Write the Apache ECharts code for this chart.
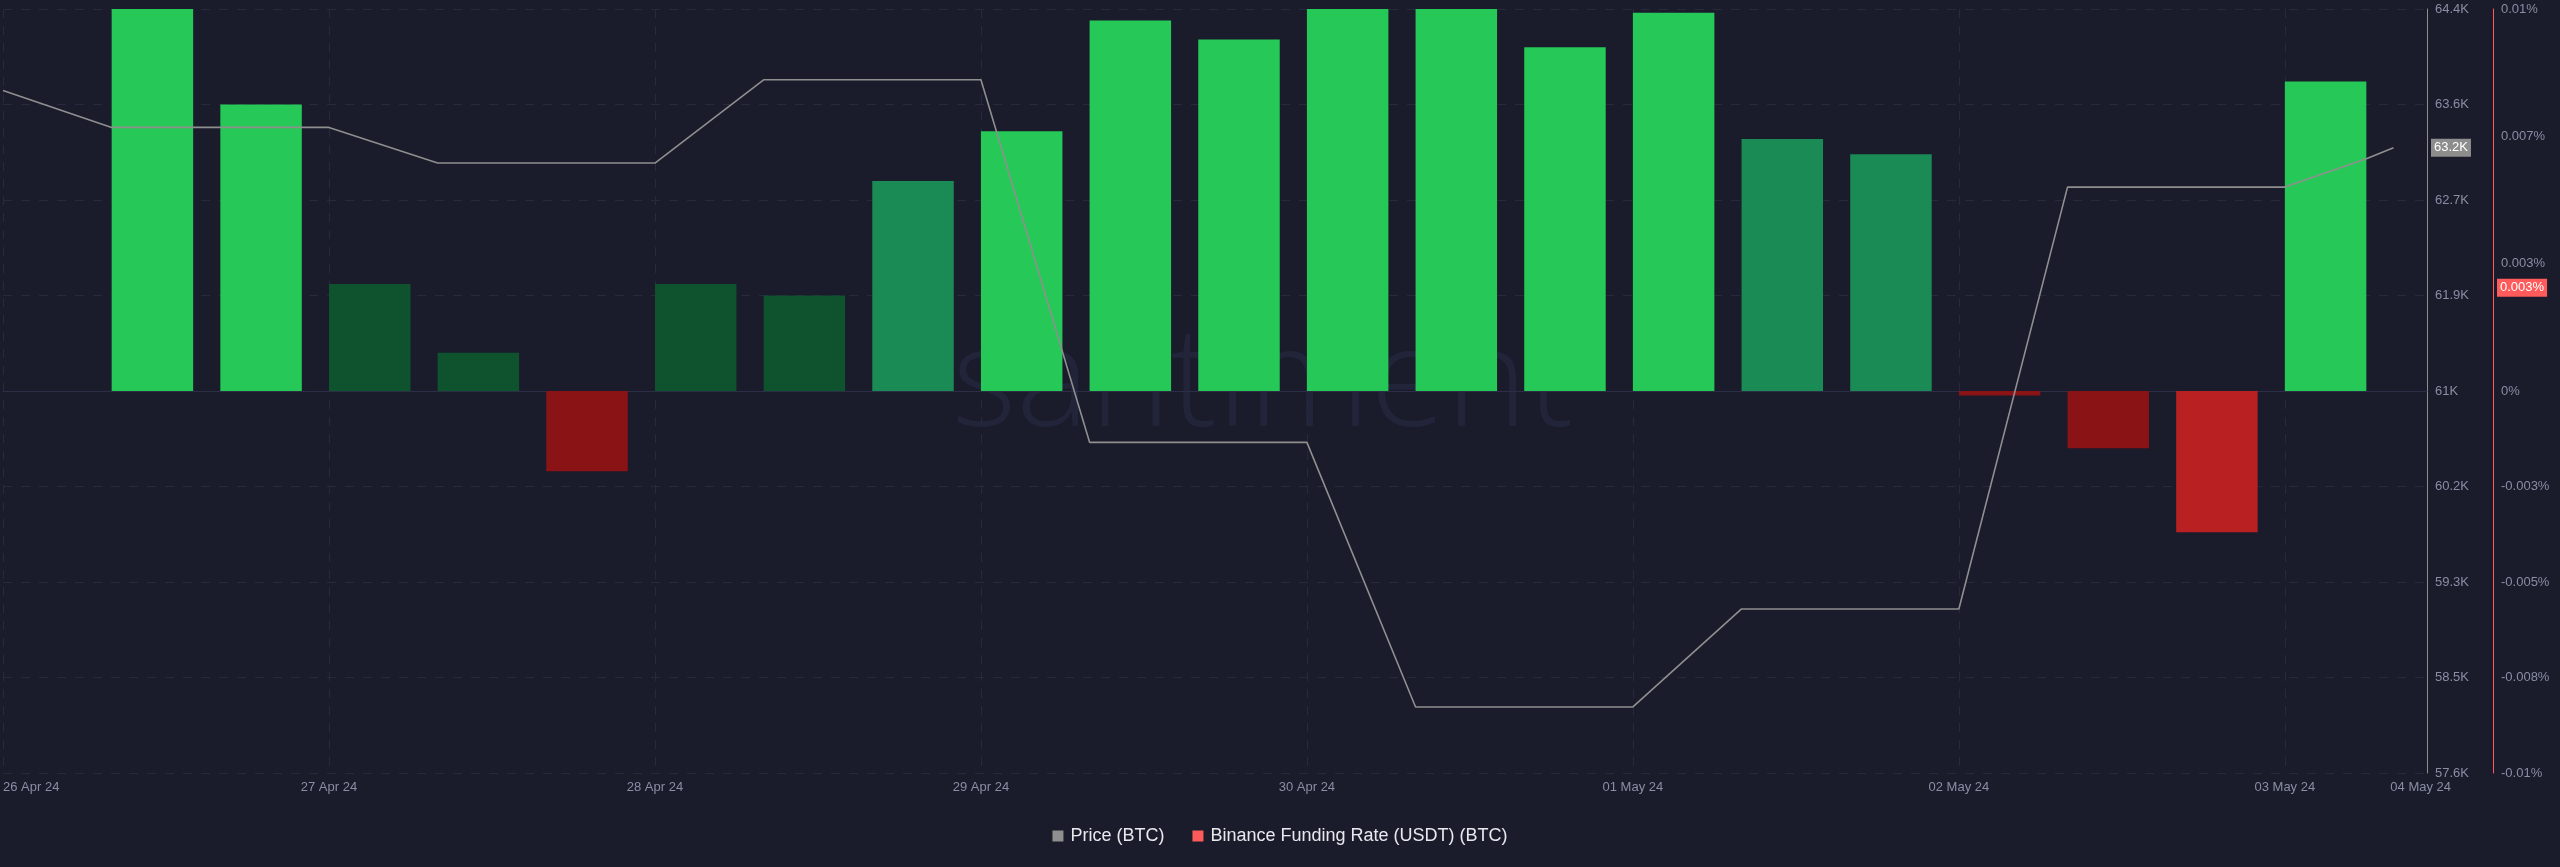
<!DOCTYPE html>
<html><head><meta charset="utf-8">
<script src="https://cdn.jsdelivr.net/npm/echarts@6/dist/echarts.min.js"></script>
<style>html,body{margin:0;padding:0;background:#1a1b2b;}#c{width:2560px;height:867px;}</style>
</head><body><div id="c"></div>
<script>
// ---------- DATA ----------
const priceTimes = ['2024-04-26T00:00Z','2024-04-26T08:00Z','2024-04-26T16:00Z','2024-04-27T00:00Z','2024-04-27T08:00Z','2024-04-27T16:00Z','2024-04-28T00:00Z','2024-04-28T08:00Z','2024-04-28T16:00Z','2024-04-29T00:00Z','2024-04-29T08:00Z','2024-04-29T16:00Z','2024-04-30T00:00Z','2024-04-30T08:00Z','2024-04-30T16:00Z','2024-05-01T00:00Z','2024-05-01T08:00Z','2024-05-01T16:00Z','2024-05-02T00:00Z','2024-05-02T08:00Z','2024-05-02T16:00Z','2024-05-03T00:00Z','2024-05-03T06:00Z','2024-05-03T08:00Z'];
const priceValues = [63675,63346,63346,63346,63029,63029,63029,63770,63770,63770,60543,60543,60543,58188,58188,58188,59060,59060,59060,62815,62815,62815,63067,63165];

const fundingTimes = ['2024-04-26T08:00Z','2024-04-26T16:00Z','2024-04-27T00:00Z','2024-04-27T08:00Z','2024-04-27T16:00Z','2024-04-28T00:00Z','2024-04-28T08:00Z','2024-04-28T16:00Z','2024-04-29T00:00Z','2024-04-29T08:00Z','2024-04-29T16:00Z','2024-04-30T00:00Z','2024-04-30T08:00Z','2024-04-30T16:00Z','2024-05-01T00:00Z','2024-05-01T08:00Z','2024-05-01T16:00Z','2024-05-02T00:00Z','2024-05-02T08:00Z','2024-05-02T16:00Z','2024-05-03T00:00Z'];
// funding rate in percent (0.01 = 0.01%)
const fundingValues = [0.0100,0.0075,0.0028,0.0010,-0.0021,0.0028,0.0025,0.0055,0.0068,0.0097,0.0092,0.0100,0.0100,0.0090,0.0099,0.0066,0.0062,-0.00012,-0.0015,-0.0037,0.0081];
const lastFundingRate = 0.0027;

const xTickTimes = ['2024-04-26T00:00Z','2024-04-27T00:00Z','2024-04-28T00:00Z','2024-04-29T00:00Z','2024-04-30T00:00Z','2024-05-01T00:00Z','2024-05-02T00:00Z','2024-05-03T00:00Z'];
const xLabelTimes = xTickTimes.concat(['2024-05-03T10:00Z']);
const xLabels = ['26 Apr 24','27 Apr 24','28 Apr 24','29 Apr 24','30 Apr 24','01 May 24','02 May 24','03 May 24','04 May 24'];
const xMin = '2024-04-26T00:00Z', xMax = '2024-05-03T10:28Z';

const priceTicks = [57600,58450,59300,60150,61000,61850,62700,63550,64400];
const priceTickLabels = ['57.6K','58.5K','59.3K','60.2K','61K','61.9K','62.7K','63.6K','64.4K'];
const fundingTicks = [-0.01,-0.0075,-0.005,-0.0025,0,0.01/3,0.02/3,0.01];
const fundingTickLabels = ['-0.01%','-0.008%','-0.005%','-0.003%','0%','0.003%','0.007%','0.01%'];

const seriesNames = ['Price (BTC)','Binance Funding Rate (USDT) (BTC)'];
// ---------- END DATA ----------

const ts = s => Date.parse(s);
const H = 3600 * 1000;
function nearestLabel(ticks, labels, v) {
  let bi = 0, bd = Infinity;
  ticks.forEach((t, i) => { const d = Math.abs(t - v); if (d < bd) { bd = d; bi = i; } });
  return labels[bi];
}
const xTickTs = xTickTimes.map(ts), xLabelTs = xLabelTimes.map(ts);

function barColor(v) {
  if (v >= 0.02/3) return '#26c957';
  if (v >= 0.01/3) return '#1a8b55';
  if (v > 0) return '#0e532e';
  if (v <= -0.01/3) return '#b82022';
  return '#8a1316';
}

const axisLabelColor = '#8a8ea4';
const FONT = 'Liberation Sans, Arial, Helvetica, sans-serif';
const lastPrice = priceValues[priceValues.length - 1];

function badge(bg, dist, text) {
  return {
    silent: true, symbol: ['none', 'none'], animation: false, precision: 8,
    lineStyle: {color: 'rgba(0,0,0,0)', width: 1, opacity: 1},
    label: {show: true, position: 'end', distance: dist, color: '#ffffff', backgroundColor: bg,
      padding: [3, 3, 2, 3], fontSize: 13, fontFamily: FONT, opacity: 1, formatter: () => text}
  };
}

const chart = echarts.init(document.getElementById('c'), null, {renderer: 'canvas'});
chart.setOption({
  backgroundColor: '#1a1b2b',
  animation: false,
  textStyle: {fontFamily: FONT},
  graphic: [{
    type: 'text', left: 952, top: 318, z: 0, silent: true,
    style: {text: 'santiment', fill: '#22253a', font: '300 138px "Open Sans", sans-serif'}
  }],
  legend: {
    bottom: 17, left: 'center', itemWidth: 11, itemHeight: 11, itemGap: 28, icon: 'rect',
    textStyle: {color: '#e8e8ee', fontSize: 18, fontFamily: FONT, padding: [0, 0, 0, 2]},
    data: seriesNames
  },
  grid: {left: 0, right: 133, top: 9, bottom: 94, containLabel: false},
  xAxis: {
    type: 'value', min: ts(xMin), max: ts(xMax), scale: true,
    axisLine: {show: true, lineStyle: {color: '#2b2e44', width: 1}},
    axisTick: {show: false, customValues: xTickTs},
    splitLine: {show: true, lineStyle: {color: '#262a3c', type: [9, 8], width: 1}},
    axisLabel: {
      customValues: xLabelTs, color: axisLabelColor, fontSize: 13, margin: 8, alignMinLabel: 'left',
      formatter: v => nearestLabel(xLabelTs, xLabels, v)
    }
  },
  yAxis: [{
    type: 'value', position: 'right', min: 57600, max: 64400,
    axisLine: {show: true, lineStyle: {color: '#8d8d8d', width: 1}},
    axisTick: {show: false, customValues: priceTicks},
    splitLine: {show: true, lineStyle: {color: '#262a3c', type: [9, 9], width: 1}},
    axisLabel: {customValues: priceTicks, color: axisLabelColor, fontSize: 13, margin: 8,
      formatter: v => nearestLabel(priceTicks, priceTickLabels, v)}
  }, {
    type: 'value', position: 'right', offset: 66, min: -0.01, max: 0.01,
    axisLine: {show: true, lineStyle: {color: '#ff5b5b', width: 1}},
    axisTick: {show: false, customValues: fundingTicks},
    splitLine: {show: false},
    axisLabel: {customValues: fundingTicks, color: axisLabelColor, fontSize: 13, margin: 8,
      formatter: v => nearestLabel(fundingTicks, fundingTickLabels, v)}
  }],
  series: [{
    name: seriesNames[1], type: 'custom', yAxisIndex: 1, z: 2,
    itemStyle: {color: '#ff5b5b'},
    encode: {x: 0, y: 1},
    data: fundingTimes.map((t, i) => [ts(t), fundingValues[i]]),
    renderItem: function (params, api) {
      const t0 = api.value(0), v = api.value(1);
      const p0 = api.coord([t0, 0]);
      const p1 = api.coord([t0 + 6 * H, v]);
      const cs = params.coordSys;
      const rect = echarts.graphic.clipRectByRect(
        {x: p0[0], y: Math.min(p0[1], p1[1]), width: p1[0] - p0[0], height: Math.abs(p1[1] - p0[1])},
        {x: cs.x, y: cs.y, width: cs.width, height: cs.height});
      return rect && {type: 'rect', shape: rect, style: {fill: barColor(v)}};
    }
  }, {
    name: 'fundingBadge', type: 'line', yAxisIndex: 1, z: 4, silent: true,
    data: [], showSymbol: false,
    markLine: Object.assign(badge('#ff5b5b', 70, (+lastFundingRate.toFixed(3)) + '%'),
      {data: [{yAxis: lastFundingRate}]})
  }, {
    name: seriesNames[0], type: 'line', yAxisIndex: 0, z: 3,
    data: priceTimes.map((t, i) => [ts(t), priceValues[i]]),
    showSymbol: false, symbol: 'none',
    lineStyle: {color: '#8f8f8f', width: 1.6},
    itemStyle: {color: '#8f8f8f'},
    markLine: Object.assign(badge('#8d8d8d', 4, (lastPrice / 1000).toFixed(1) + 'K'),
      {data: [{yAxis: lastPrice}]})
  }]
});
</script></body></html>
